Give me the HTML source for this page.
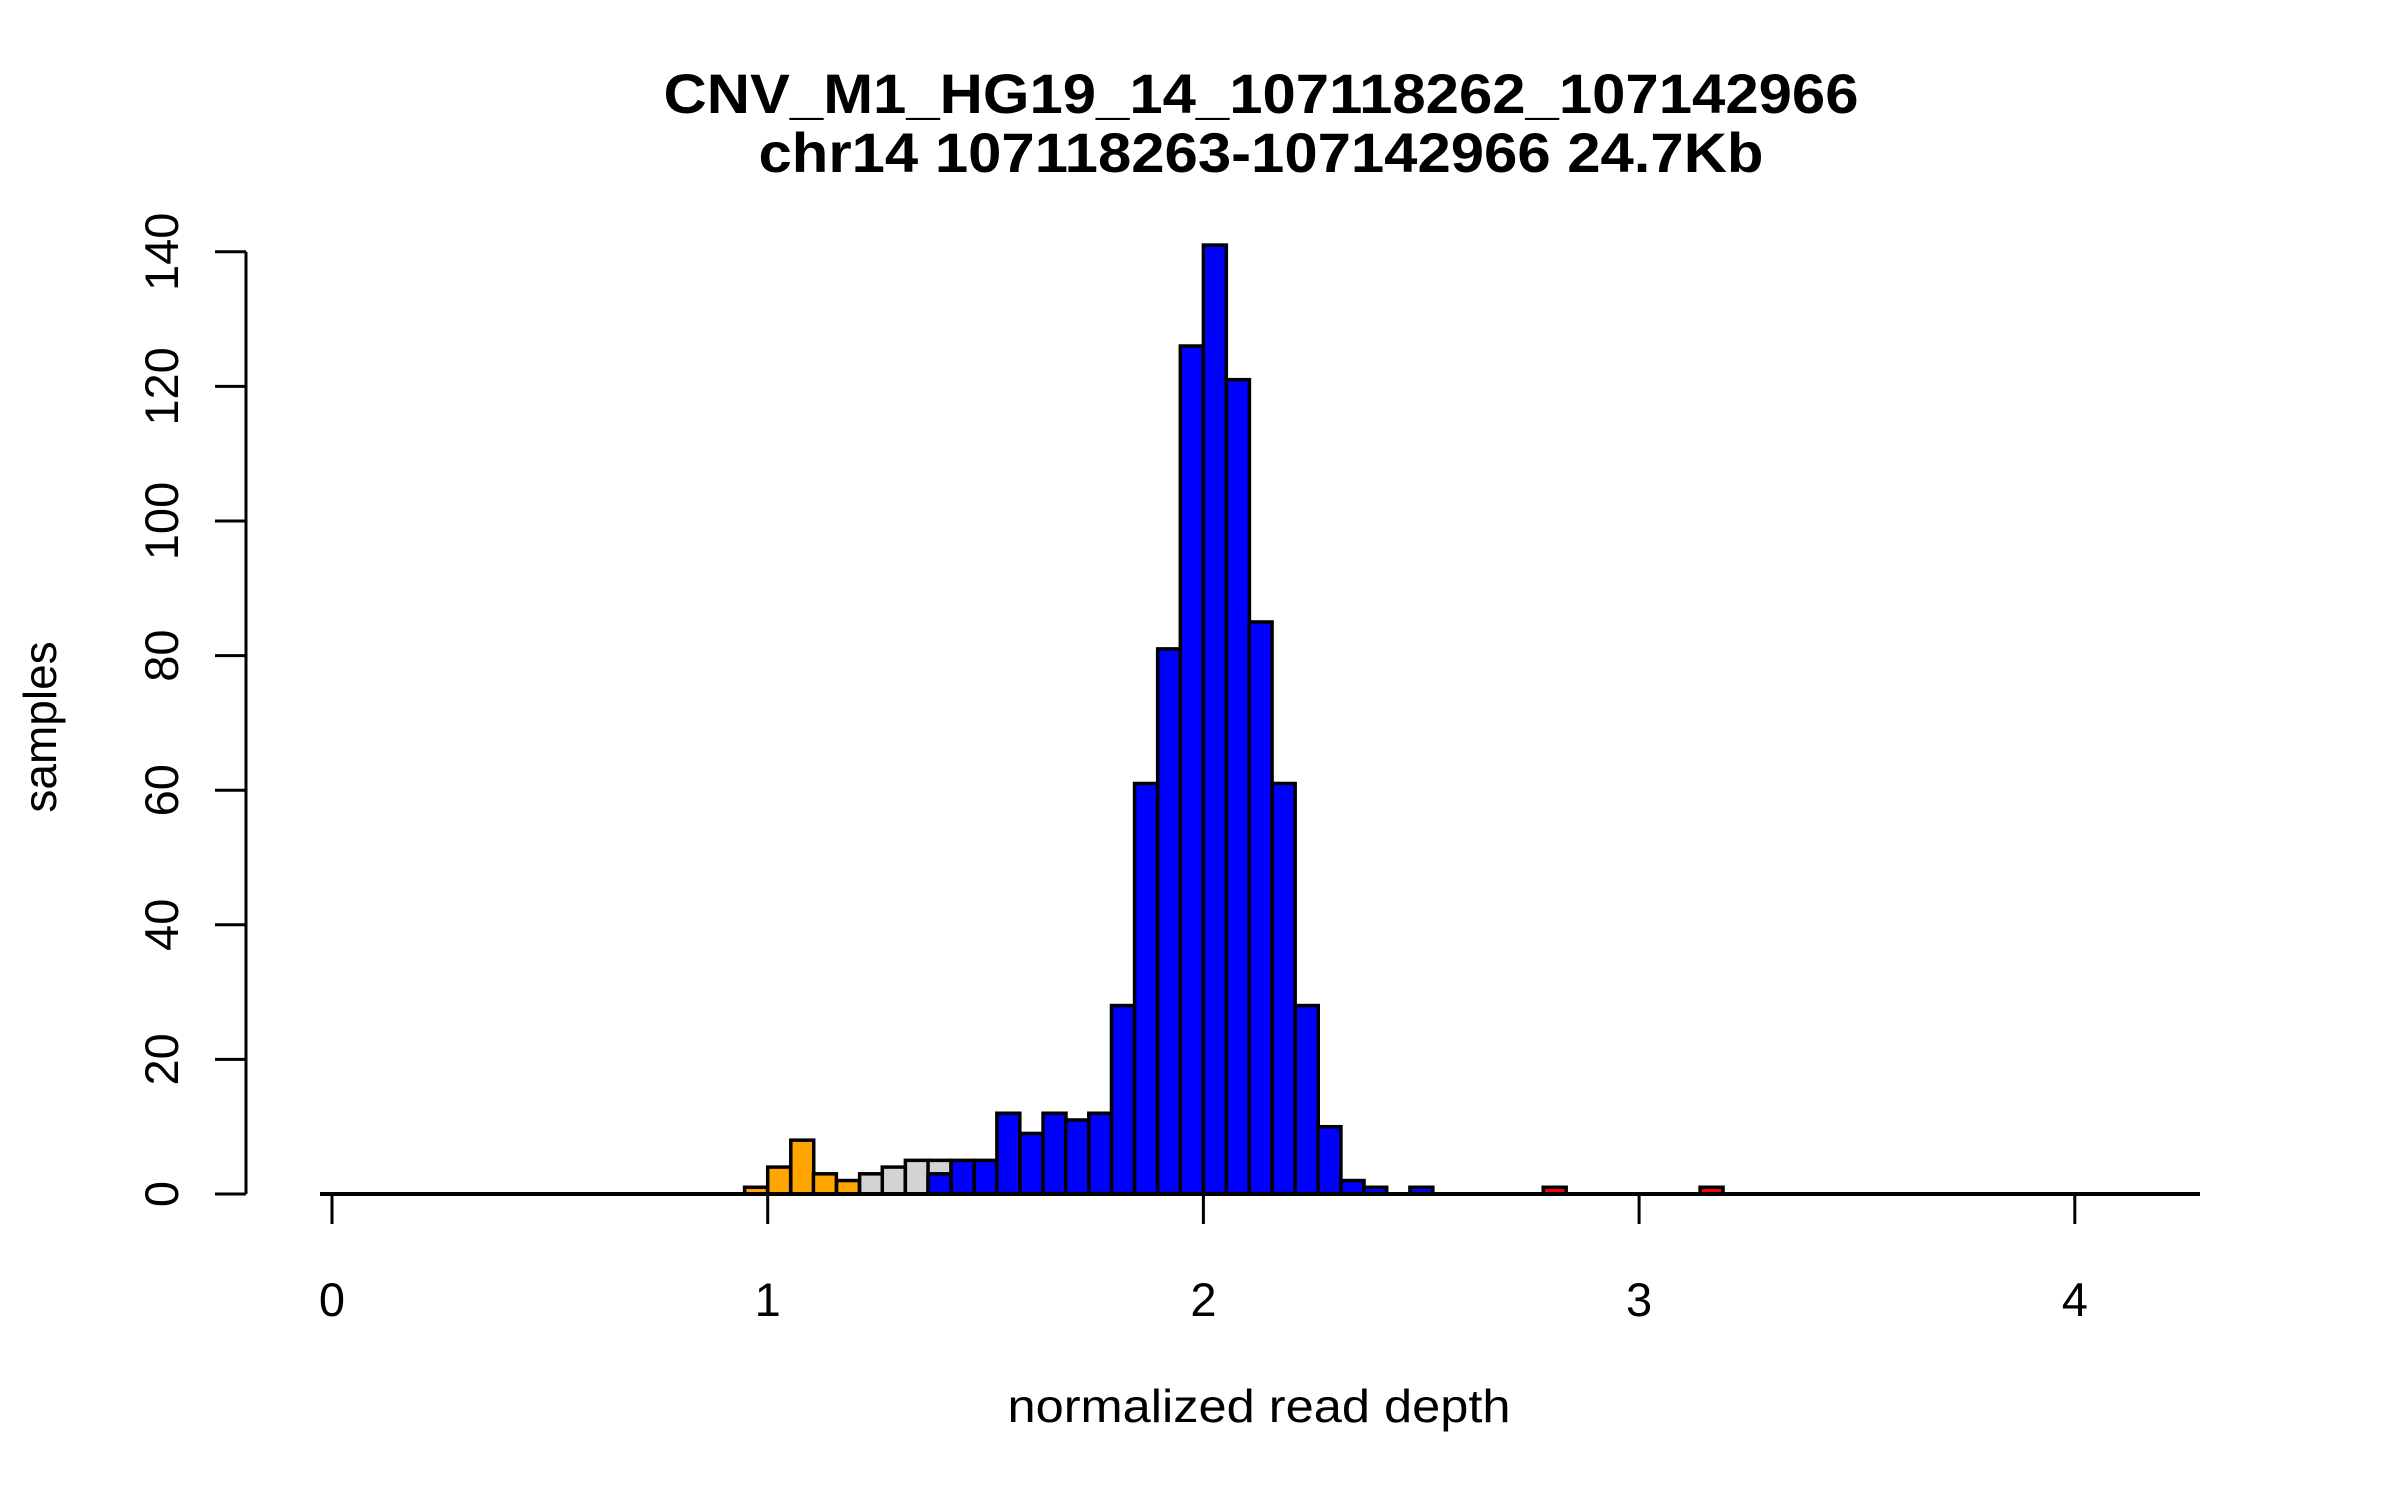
<!DOCTYPE html>
<html><head><meta charset="utf-8"><style>
html,body{margin:0;padding:0;background:#fff;}
svg{display:block;font-family:"Liberation Sans",sans-serif;}
</style></head><body>
<svg id="chart" width="2400" height="1500" viewBox="0 0 2400 1500" xmlns="http://www.w3.org/2000/svg">
<rect width="2400" height="1500" fill="#fff"/>
<text x="1261" y="113" text-anchor="middle" font-weight="bold" font-size="56" textLength="1195" lengthAdjust="spacingAndGlyphs">CNV_M1_HG19_14_107118262_107142966</text>
<text x="1261" y="172" text-anchor="middle" font-weight="bold" font-size="56" textLength="1005" lengthAdjust="spacingAndGlyphs">chr14 107118263-107142966 24.7Kb</text>
<text x="1259" y="1422" text-anchor="middle" font-size="46" textLength="503" lengthAdjust="spacingAndGlyphs">normalized read depth</text>
<text transform="translate(56,727) rotate(-90)" text-anchor="middle" font-size="46">samples</text>
<g id="bars"></g>
<g id="axes"></g>
</svg>
<script>
const orangeBins = [0.947,1.0,1.053,1.105,1.158,1.211,1.263];
const orangeCounts = [1,4,8,3,2,1,1];
const grayBins = [1.211,1.263,1.316,1.368];
const grayCounts = [3,4,5,5];
const blueBins = [1.368,1.421,1.474,1.526,1.579,1.632,1.684,1.737,1.789,1.842,1.895,1.947,2.0,2.053,2.105,2.158,2.211,2.263,2.316,2.368,2.474];
const blueCounts = [3,5,5,12,9,12,11,12,28,61,81,126,141,121,85,61,28,10,2,1,1];
const redBins = [2.78,3.14];
const redCounts = [1,1];
const xTicks = [0,1,2,3,4];
const yTicks = [0,20,40,60,80,100,120,140];
const binWidth = 1/19;

const NS = "http://www.w3.org/2000/svg";
const X0 = 332, XS = 435.7, Y0 = 1194, YS = 6.73;
function xs(v){return X0 + v*XS;}
function ys(v){return Y0 - v*YS;}
const barsG = document.getElementById('bars');
const axesG = document.getElementById('axes');
function mk(tag, attrs, parent){
  const e = document.createElementNS(NS, tag);
  for (const k in attrs) e.setAttribute(k, attrs[k]);
  parent.appendChild(e);
  return e;
}
function drawSeries(bins, counts, color, name){
  bins.forEach((b,i)=>{
    const x1 = xs(b), x2 = xs(b+binWidth);
    const r = mk('rect', {x:x1, y:ys(counts[i]), width:x2-x1, height:counts[i]*YS, fill:color, stroke:'#000', 'stroke-width':3.5}, barsG);
    
    
  });
}
drawSeries(orangeBins, orangeCounts, '#FFA500', 'orange');
drawSeries(grayBins, grayCounts, '#D3D3D3', 'gray');
drawSeries(blueBins, blueCounts, '#0000FF', 'blue');
drawSeries(redBins, redCounts, '#FF0000', 'red');

const bl = mk('line', {x1:320, y1:Y0, x2:2200, y2:Y0, stroke:'#000', 'stroke-width':4}, axesG);



xTicks.forEach(t=>{
  const l = mk('line', {x1:xs(t), y1:Y0, x2:xs(t), y2:Y0+30, stroke:'#000', 'stroke-width':3}, axesG);
  
  
  const tx = mk('text', {x:xs(t), y:1316, 'text-anchor':'middle', 'font-size':47}, axesG);
  tx.textContent = t;
  
  
});
const ya = mk('line', {x1:246, y1:ys(0), x2:246, y2:ys(140), stroke:'#000', 'stroke-width':3}, axesG);


yTicks.forEach(t=>{
  const l = mk('line', {x1:215, y1:ys(t), x2:246, y2:ys(t), stroke:'#000', 'stroke-width':3}, axesG);
  
  
  const tx = mk('text', {transform:'translate(178,'+ys(t)+') rotate(-90)', 'text-anchor':'middle', 'font-size':47}, axesG);
  tx.textContent = t;
  
  
});
</script>
</body></html>
